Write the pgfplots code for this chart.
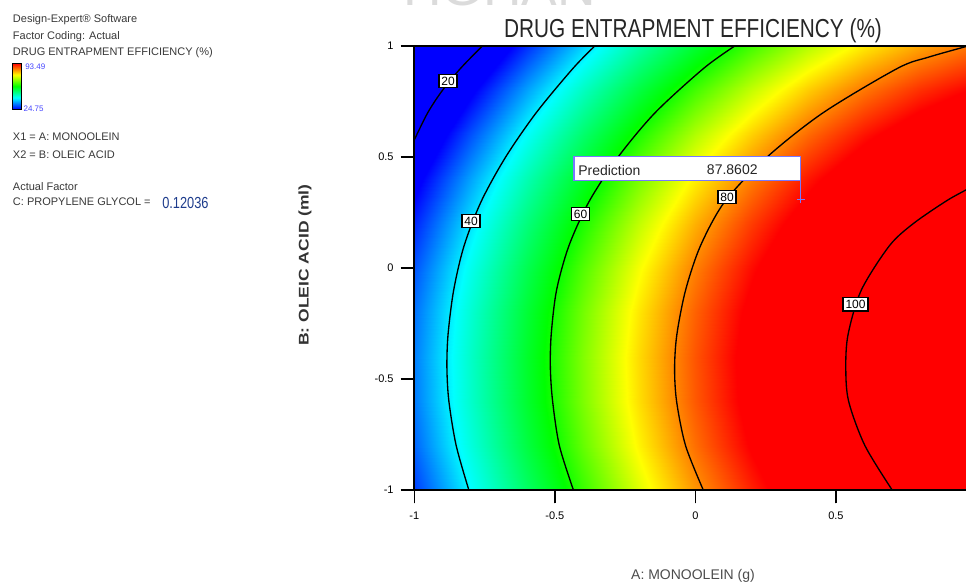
\documentclass[border=0pt]{standalone}
\usepackage{fontspec}
\setmainfont{Liberation Sans}
\usepackage{graphicx}
\usepackage{pgfplots}
\pgfplotsset{compat=1.18}
\definecolor{predblue}{RGB}{120,120,255}
\definecolor{legblue}{RGB}{70,70,255}
\definecolor{facblue}{RGB}{30,60,140}
\pgfdeclareverticalshading{dejet}{100bp}{color(0bp)=(blue); color(25bp)=(blue); color(37.5bp)=(cyan); color(50bp)=(green); color(62.5bp)=(yellow); color(75bp)=(red); color(100bp)=(red)}

\begin{document}
\begin{tikzpicture}
\useasboundingbox (0pt,0pt) rectangle (724.5pt,-437.25pt);
\begin{axis}[
  at={(310.725pt,-367.5pt)}, anchor=south west,
  scale only axis, width=421.65pt, height=333pt,
  view={0}{90},
  xmin=-1, xmax=1, ymin=-1, ymax=1, zmin=0, zmax=130,
  xtick={-1,-0.5,0,0.5}, xticklabels={-1,-0.5,0,0.5},
  ytick={-1,-0.5,0,0.5,1}, yticklabels={-1,-0.5,0,0.5,1},
  ztick=\empty,
  tick pos=left,
  tick align=outside,
  major tick length=10pt,
  tick style={line width=1.2pt, black},
  axis line style={line width=1.5pt, black},
  ticklabel style={font=\fontsize{8.25}{9}\selectfont},
  xticklabel style={yshift=-3pt},
  yticklabel style={xshift=-2pt},
  colormap={de}{color(0)=(blue) color(24.75)=(blue) color(40.5)=(cyan) color(58.5)=(green) color(72.5)=(yellow) color(88)=(red) color(130)=(red)},
  point meta min=0, point meta max=130,
]
\addplot3[surf, shader=interp, mesh/rows=11, mesh/cols=11] table[x=x,y=y,z=v] {
x y v
-1 -1 28.48
-0.8 -1 40.48
-0.6 -1 51.52
-0.4 -1 61.60
-0.2 -1 70.72
0 -1 78.88
0.2 -1 86.08
0.4 -1 92.32
0.6 -1 97.60
0.8 -1 101.92
1 -1 105.28
-1 -0.8 30.87
-0.8 -0.8 42.87
-0.6 -0.8 53.91
-0.4 -0.8 63.99
-0.2 -0.8 73.11
0 -0.8 81.27
0.2 -0.8 88.47
0.4 -0.8 94.71
0.6 -0.8 99.99
0.8 -0.8 104.31
1 -0.8 107.67
-1 -0.6 32.20
-0.8 -0.6 44.20
-0.6 -0.6 55.24
-0.4 -0.6 65.32
-0.2 -0.6 74.44
0 -0.6 82.60
0.2 -0.6 89.80
0.4 -0.6 96.04
0.6 -0.6 101.32
0.8 -0.6 105.64
1 -0.6 109.00
-1 -0.4 32.47
-0.8 -0.4 44.47
-0.6 -0.4 55.51
-0.4 -0.4 65.59
-0.2 -0.4 74.71
0 -0.4 82.87
0.2 -0.4 90.07
0.4 -0.4 96.31
0.6 -0.4 101.59
0.8 -0.4 105.91
1 -0.4 109.27
-1 -0.2 31.67
-0.8 -0.2 43.67
-0.6 -0.2 54.71
-0.4 -0.2 64.79
-0.2 -0.2 73.91
0 -0.2 82.07
0.2 -0.2 89.27
0.4 -0.2 95.51
0.6 -0.2 100.79
0.8 -0.2 105.11
1 -0.2 108.47
-1 0 29.81
-0.8 0 41.81
-0.6 0 52.85
-0.4 0 62.93
-0.2 0 72.05
0 0 80.21
0.2 0 87.41
0.4 0 93.65
0.6 0 98.93
0.8 0 103.25
1 0 106.61
-1 0.2 26.88
-0.8 0.2 38.88
-0.6 0.2 49.92
-0.4 0.2 60.00
-0.2 0.2 69.12
0 0.2 77.28
0.2 0.2 84.48
0.4 0.2 90.72
0.6 0.2 96.00
0.8 0.2 100.32
1 0.2 103.68
-1 0.4 22.89
-0.8 0.4 34.89
-0.6 0.4 45.93
-0.4 0.4 56.01
-0.2 0.4 65.13
0 0.4 73.29
0.2 0.4 80.49
0.4 0.4 86.73
0.6 0.4 92.01
0.8 0.4 96.33
1 0.4 99.69
-1 0.6 17.84
-0.8 0.6 29.84
-0.6 0.6 40.88
-0.4 0.6 50.96
-0.2 0.6 60.08
0 0.6 68.24
0.2 0.6 75.44
0.4 0.6 81.68
0.6 0.6 86.96
0.8 0.6 91.28
1 0.6 94.64
-1 0.8 11.72
-0.8 0.8 23.72
-0.6 0.8 34.76
-0.4 0.8 44.84
-0.2 0.8 53.96
0 0.8 62.12
0.2 0.8 69.32
0.4 0.8 75.56
0.6 0.8 80.84
0.8 0.8 85.16
1 0.8 88.52
-1 1 4.54
-0.8 1 16.54
-0.6 1 27.58
-0.4 1 37.66
-0.2 1 46.78
0 1 54.94
0.2 1 62.14
0.4 1 68.38
0.6 1 73.66
0.8 1 77.98
1 1 81.34
};
% contour lines
\addplot3[smooth, black, line width=1pt] coordinates {(-0.758,1,20) (-0.835,0.9,20) (-0.900,0.8,20) (-0.952,0.7,20) (-1,0.577,20)};
\addplot3[smooth, black, line width=1pt] coordinates {(-0.358,1,40) (-0.435,0.9,40) (-0.566,0.7,40) (-0.675,0.5,40) (-0.762,0.3,40) (-0.823,0.1,40) (-0.860,-0.1,40) (-0.880,-0.3,40) (-0.884,-0.45,40) (-0.877,-0.6,40) (-0.851,-0.8,40) (-0.806,-1,40)};
\addplot3[smooth, black, line width=1pt] coordinates {(0.140,1,60) (0.030,0.9,60) (-0.143,0.7,60) (-0.275,0.5,60) (-0.378,0.3,60) (-0.450,0.1,60) (-0.494,-0.1,60) (-0.513,-0.3,60) (-0.516,-0.45,60) (-0.508,-0.6,60) (-0.484,-0.8,60) (-0.434,-1,60)};
\addplot3[smooth, black, line width=1pt] coordinates {(0.97,1,80) (0.83,0.95,80) (0.72,0.9,80) (0.455,0.7,80) (0.255,0.5,80) (0.105,0.3,80) (0.018,0.1,80) (-0.035,-0.1,80) (-0.066,-0.3,80) (-0.074,-0.45,80) (-0.067,-0.6,80) (-0.035,-0.8,80) (0.028,-1,80)};
\addplot3[smooth, black, line width=1pt] coordinates {(1.0,0.376,100) (0.96,0.35,100) (0.890,0.3,100) (0.775,0.2,100) (0.690,0.1,100) (0.590,-0.1,100) (0.543,-0.3,100) (0.535,-0.45,100) (0.545,-0.6,100) (0.603,-0.8,100) (0.700,-1,100)};
% prediction connector and point
\addplot3[predblue, line width=0.8pt] coordinates {(0.375,0.393,120) (0.375,0.309,120)};
\addplot3[predblue, only marks, mark=+, mark size=3pt, line width=0.8pt] coordinates {(0.375,0.309,120)};
\end{axis}
\begin{scope}[x=0.75pt,y=-0.75pt]
% faint watermark
\node[anchor=base west, inner sep=0, text=black!14, font=\fontsize{40}{40}\selectfont] at (403,5.5) {HGHAN};
% title
\node[anchor=base, inner sep=0, text=black!85] at (693,37.7) {\fontsize{19.5}{20}\selectfont\scalebox{0.8}[1]{DRUG ENTRAPMENT EFFICIENCY (\%)}};
% left info block
\begin{scope}[every node/.style={anchor=base west, inner sep=0, text=black!78, font=\fontsize{8.25}{9}\selectfont}]
\node at (12.7,22.3) {Design-Expert® Software};
\node at (12.7,39) {Factor Coding: Actual};
\node at (12.7,55.7) {DRUG ENTRAPMENT EFFICIENCY (\%)};
\node at (12.7,140.7) {X1 = A: MONOOLEIN};
\node at (12.7,158) {X2 = B: OLEIC ACID};
\node at (12.7,190.7) {Actual Factor};
\node at (12.7,205.7) {C: PROPYLENE GLYCOL = };
\end{scope}
\node[anchor=base west, inner sep=0, text=facblue] at (162,208) {\fontsize{12}{13}\selectfont\scalebox{0.8}[1]{0.12036}};
% color legend
\shade[shading=dejet] (12.7,63.3) rectangle (21.7,109.3);
\draw[black, line width=0.9pt] (12.7,63.3) rectangle (21.7,109.3);
\node[anchor=base west, inner sep=0, text=legblue, font=\fontsize{6}{7}\selectfont] at (25,69.5) {93.49};
\node[anchor=base west, inner sep=0, text=legblue, font=\fontsize{6}{7}\selectfont] at (23.3,111) {24.75};
% axis labels
\node[rotate=90, inner sep=0, text=black!80] at (305,265) {\fontsize{10.5}{12}\selectfont\scalebox{1.25}[1]{\bfseries B: OLEIC ACID (ml)}};
\node[anchor=base, inner sep=0, text=black!70] at (693,579) {\fontsize{10.5}{12}\selectfont A: MONOOLEIN (g)};
% contour labels
\begin{scope}[every node/.style={draw=black, line width=1.1pt, fill=white, inner sep=1.8pt, font=\fontsize{9}{9}\selectfont}]
\node at (448,81) {20};
\node at (471,221) {40};
\node at (580.5,214) {60};
\node at (727,197) {80};
\node at (855.5,304.3) {100};
\end{scope}
% prediction box
\draw[predblue, fill=white, line width=0.8pt] (574,156.7) rectangle (800.7,180.7);
\node[anchor=west, inner sep=0, text=black!85, font=\fontsize{10.5}{12}\selectfont] at (578,170) {Prediction};
\node[anchor=west, inner sep=0, text=black!85, font=\fontsize{10.5}{12}\selectfont] at (706.7,170) {87.8602};
\end{scope}
\end{tikzpicture}
\end{document}
